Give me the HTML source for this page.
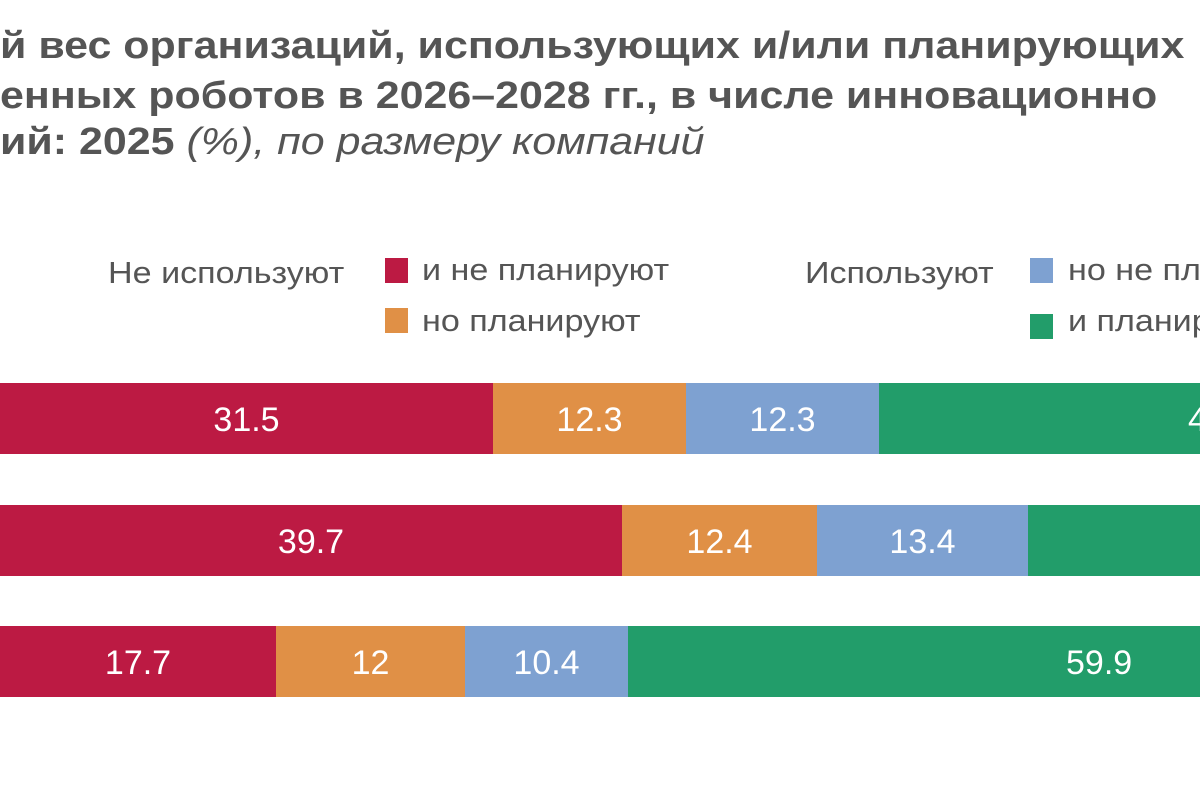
<!DOCTYPE html>
<html><head><meta charset="utf-8"><style>
html,body{margin:0;width:1200px;height:800px;overflow:hidden;}
body{background:#fff;position:relative;font-family:"Liberation Sans",sans-serif;}
.t{position:absolute;left:0;font-weight:bold;color:#555;font-size:38px;white-space:nowrap;transform:scaleX(1.13);transform-origin:left top;}
.l{position:absolute;color:#555;font-size:31px;white-space:nowrap;transform:scaleX(1.1);transform-origin:left top;}
.sq{position:absolute;width:23px;height:25px;}
.bar{position:absolute;height:71px;color:#fff;font-size:34px;display:flex;align-items:center;justify-content:center;overflow:hidden;}
.bar span{display:inline-block;position:relative;top:2px;}
</style></head><body>
<div class="t" style="top:25px">й вес организаций, использующих и/или планирующих</div>
<div class="t" style="top:75px">енных роботов в 2026–2028 гг., в числе инновационно</div>
<div class="t" style="top:121px">ий: 2025 <span style="font-weight:normal;font-style:italic">(%), по размеру компаний</span></div>

<div class="l" style="left:108px;top:255px">Не используют</div>
<div class="sq" style="left:385px;top:258px;background:#bc1a43"></div>
<div class="l" style="left:422px;top:252px">и не планируют</div>
<div class="sq" style="left:385px;top:308px;background:#e09046"></div>
<div class="l" style="left:422px;top:303px">но планируют</div>
<div class="l" style="left:805px;top:255px">Используют</div>
<div class="sq" style="left:1030px;top:258px;background:#7ea1d1"></div>
<div class="l" style="left:1068px;top:252px">но не планируют</div>
<div class="sq" style="left:1030px;top:314px;background:#229d6a"></div>
<div class="l" style="left:1068px;top:303px">и планируют</div>

<div class="bar" style="top:383px;left:0;width:493px;background:#bc1a43"><span>31.5</span></div>
<div class="bar" style="top:383px;left:493px;width:193px;background:#e09046"><span>12.3</span></div>
<div class="bar" style="top:383px;left:686px;width:193px;background:#7ea1d1"><span>12.3</span></div>
<div class="bar" style="top:383px;left:879px;width:321px;background:#229d6a;justify-content:flex-start"><span style="margin-left:309px">4</span></div>

<div class="bar" style="top:505px;left:0;width:622px;background:#bc1a43"><span>39.7</span></div>
<div class="bar" style="top:505px;left:622px;width:195px;background:#e09046"><span>12.4</span></div>
<div class="bar" style="top:505px;left:817px;width:211px;background:#7ea1d1"><span>13.4</span></div>
<div class="bar" style="top:505px;left:1028px;width:172px;background:#229d6a"></div>

<div class="bar" style="top:626px;left:0;width:276px;background:#bc1a43"><span>17.7</span></div>
<div class="bar" style="top:626px;left:276px;width:189px;background:#e09046"><span>12</span></div>
<div class="bar" style="top:626px;left:465px;width:163px;background:#7ea1d1"><span>10.4</span></div>
<div class="bar" style="top:626px;left:628px;width:572px;background:#229d6a;justify-content:flex-start"><span style="margin-left:438px">59.9</span></div>
</body></html>
